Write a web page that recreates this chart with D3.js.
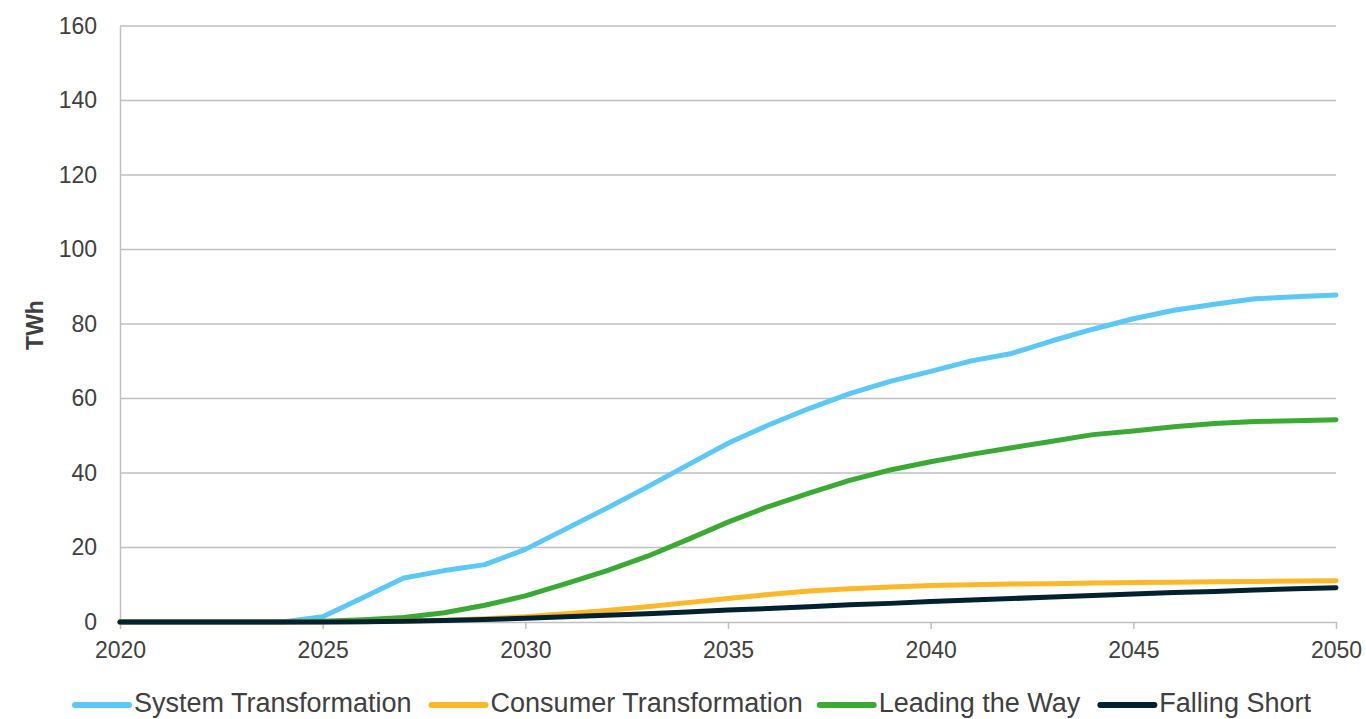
<!DOCTYPE html>
<html>
<head>
<meta charset="utf-8">
<script src="https://cdn.jsdelivr.net/npm/d3@7"></script>
<style>
  html, body { margin: 0; padding: 0; background: #fff; }
  svg { display: block; font-family: "Liberation Sans", Arial, sans-serif; }
</style>
</head>
<body>
<svg id="chart" width="1366" height="719"></svg>
<script>
const years = d3.range(2020, 2051);
const systemTransformation = [0,0,0,0,0,1.4,6.6,11.8,13.8,15.4,19.5,25,30.5,36.2,42.1,48,52.9,57.3,61.3,64.6,67.3,70.1,72.1,75.5,78.6,81.4,83.7,85.3,86.8,87.3,87.8];
const consumerTransformation = [0,0,0,0,0,0,0.1,0.3,0.5,0.9,1.4,2.2,3.1,4.1,5.2,6.3,7.4,8.3,8.9,9.4,9.8,10.0,10.2,10.3,10.5,10.6,10.7,10.8,10.9,11.0,11.1];
const leadingTheWay = [0,0,0,0,0,0.2,0.6,1.2,2.5,4.5,7.0,10.3,13.7,17.6,22.1,26.8,31.0,34.6,38.0,40.8,43.0,45.0,46.8,48.5,50.3,51.3,52.4,53.3,53.8,54.0,54.3];
const fallingShort = [0,0,0,0,0,0,0.1,0.2,0.4,0.7,1.0,1.4,1.8,2.2,2.7,3.2,3.6,4.1,4.6,5.0,5.5,5.9,6.3,6.7,7.1,7.5,7.9,8.2,8.6,8.9,9.2];
const seriesNames = ["System Transformation","Consumer Transformation","Leading the Way","Falling Short"];
const seriesColors = ["#5BC8F5","#FBB829","#3BAA35","#00212F"];
const seriesValues = [systemTransformation, consumerTransformation, leadingTheWay, fallingShort];
const yTicks = [0,20,40,60,80,100,120,140,160];
const xTicks = [2020,2025,2030,2035,2040,2045,2050];
const yTitle = "TWh";

const svg = d3.select("#chart");
const x = d3.scaleLinear().domain([2020, 2050]).range([120, 1336]);
const y = d3.scaleLinear().domain([0, 160]).range([622, 26]);
const textColor = "#404040";
const gridColor = "#BFBFBF";

// gridlines
svg.append("g").selectAll("line").data(yTicks.filter(d => d > 0)).join("line")
  .attr("x1", x(2020)).attr("x2", x(2050))
  .attr("y1", d => y(d)).attr("y2", d => y(d))
  .attr("stroke", gridColor).attr("stroke-width", 1.5);

// y axis
const yAxis = svg.append("g").attr("transform", `translate(${x(2020)},0)`)
  .call(d3.axisLeft(y).tickValues(yTicks).tickSize(0).tickPadding(23));
yAxis.select(".domain").attr("stroke", gridColor).attr("stroke-width", 1.5);
yAxis.selectAll("text").attr("fill", textColor).style("font-size", "23px")
  .style("font-family", "'Liberation Sans', Arial, sans-serif");

// x axis
const xAxis = svg.append("g").attr("transform", `translate(0,${y(0)})`)
  .call(d3.axisBottom(x).tickValues(xTicks).tickFormat(d3.format("d")).tickSize(7).tickSizeOuter(0).tickPadding(13));
xAxis.select(".domain").attr("stroke", gridColor).attr("stroke-width", 1.5);
xAxis.selectAll(".tick line").attr("stroke", gridColor).attr("stroke-width", 1.5);
xAxis.selectAll("text").attr("fill", textColor).style("font-size", "23px")
  .style("font-family", "'Liberation Sans', Arial, sans-serif");

// y title
svg.append("text")
  .attr("transform", `translate(43,${y(80) + 1}) rotate(-90)`)
  .attr("text-anchor", "middle")
  .attr("fill", textColor)
  .style("font-size", "23px").style("font-weight", "bold")
  .text(yTitle);

// lines
const line = d3.line().x((d, i) => x(years[i])).y(d => y(d)).curve(d3.curveLinear);
const order = [0, 2, 1, 3];
svg.append("g").selectAll("path").data(order).join("path")
  .attr("d", i => line(seriesValues[i]))
  .attr("fill", "none")
  .attr("stroke", i => seriesColors[i])
  .attr("stroke-width", 5)
  .attr("stroke-linecap", "round")
  .attr("stroke-linejoin", "round");

// legend
const legend = svg.append("g");
let lx = 75;
const ly = 705;
const gaps = [20, 17, 20, 0];
seriesNames.forEach((name, i) => {
  legend.append("line")
    .attr("x1", lx).attr("x2", lx + 54)
    .attr("y1", ly).attr("y2", ly)
    .attr("stroke", seriesColors[i]).attr("stroke-width", 6).attr("stroke-linecap", "round");
  const t = legend.append("text")
    .attr("x", lx + 59).attr("y", ly + 7)
    .attr("fill", textColor)
    .style("font-size", "27px")
    .text(name);
  const w = t.node().getComputedTextLength();
  lx = lx + 59 + w + gaps[i];
});
</script>
</body>
</html>
